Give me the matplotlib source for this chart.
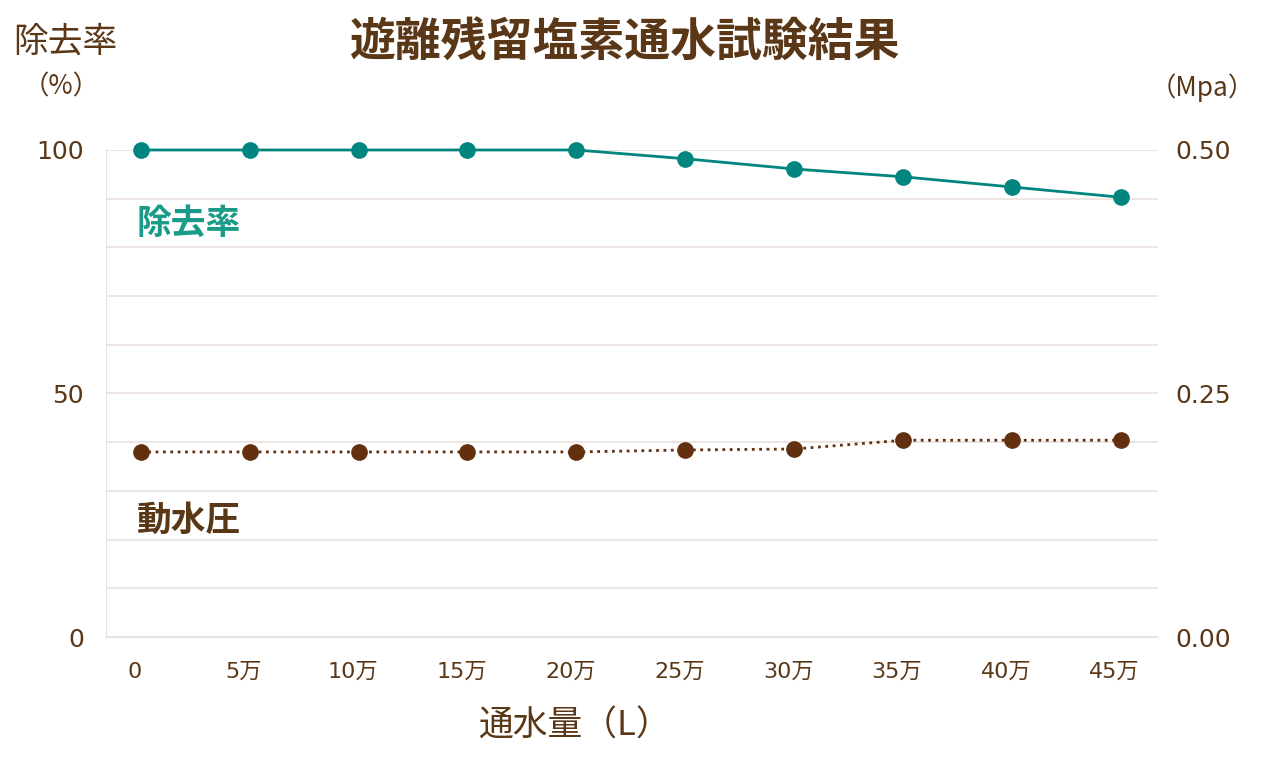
import numpy as np
import matplotlib.pyplot as plt
from matplotlib.transforms import ScaledTranslation

plt.rcParams['font.family'] = ['Noto Sans CJK JP', 'DejaVu Sans']

# ---------------------------
# データ
# ---------------------------
volume_labels = ["0", "5万", "10万", "15万", "20万", "25万", "30万", "35万", "40万", "45万"]
removal_rate = [100, 100, 100, 100, 100, 98.2, 96.1, 94.5, 92.4, 90.3]
pressure = [0.190, 0.190, 0.190, 0.190, 0.190, 0.192, 0.193, 0.202, 0.202, 0.202]

TEXT = "#5a3716"
TEAL = "#00857f"
TEAL_LABEL = "#1a9a88"
BROWN = "#62300e"
GRID = "#e9e0dc"
NUM_FONT = ['DejaVu Sans', 'Noto Sans CJK JP']

x = np.arange(len(volume_labels))

fig = plt.figure(figsize=(12.64, 7.66), dpi=100)
ax = fig.add_axes([0.0839, 0.1684, 0.832, 0.6358])
ax2 = ax.twinx()

# 除去率
ax.plot(x, removal_rate, '-', color=TEAL, lw=2, marker='o', ms=11,
        clip_on=False, zorder=5)
# 動水圧
ax2.plot(x, pressure, ':', color=BROWN, lw=2, marker='o', ms=11,
         clip_on=False, zorder=5)

ax.set_xlim(-0.32, 9.34)
ax.set_ylim(0, 100)
ax2.set_ylim(0, 0.5)

ax.set_yticks(np.arange(0, 101, 10))
ax.set_yticklabels([str(v) if v in (0, 50, 100) else "" for v in range(0, 101, 10)])
ax2.set_yticks([0, 0.25, 0.5])
ax2.set_yticklabels(["0.00", "0.25", "0.50"])

ax.set_xticks(x)
ax.set_xticklabels(volume_labels)

ax.grid(axis='y', color=GRID, lw=1.2)
ax.set_axisbelow(True)

for a in (ax, ax2):
    for s in a.spines.values():
        s.set_visible(False)
    a.tick_params(length=0, colors=TEXT, labelsize=18)
ax.spines['left'].set_visible(True)
ax.spines['left'].set_color(GRID)
ax.spines['bottom'].set_visible(True)
ax.spines['bottom'].set_color(GRID)
ax.tick_params(axis='y', pad=16)
ax.tick_params(axis='x', pad=18, labelsize=16)
ax2.tick_params(axis='y', pad=13)
for lab in ax.get_xticklabels() + ax.get_yticklabels() + ax2.get_yticklabels():
    lab.set_family(NUM_FONT)

# x目盛りラベルは少し左寄せ
shift = ScaledTranslation(-6 / 100, 0, fig.dpi_scale_trans)
for lab in ax.get_xticklabels():
    lab.set_transform(lab.get_transform() + shift)

# ---------------------------
# テキスト
# ---------------------------
fig.text(0.495, 0.943, "遊離残留塩素通水試験結果", ha='center', va='center',
         fontsize=33, fontweight='bold', color=TEXT)
fig.text(0.052, 0.945, "除去率", ha='center', va='center', fontsize=25, color=TEXT)
fig.text(0.048, 0.886, "（%）", ha='center', va='center', fontsize=19, color=TEXT)
fig.text(0.951, 0.886, "（Mpa）", ha='center', va='center', fontsize=19, color=TEXT)
fig.text(0.455, 0.052, "通水量（L）", ha='center', va='center', fontsize=25, color=TEXT)

ax.text(-0.04, 85, "除去率", ha='left', va='center', fontsize=25,
        fontweight='bold', color=TEAL_LABEL)
ax.text(-0.04, 24, "動水圧", ha='left', va='center', fontsize=25,
        fontweight='bold', color=TEXT)

plt.savefig("out.png", dpi=100)
